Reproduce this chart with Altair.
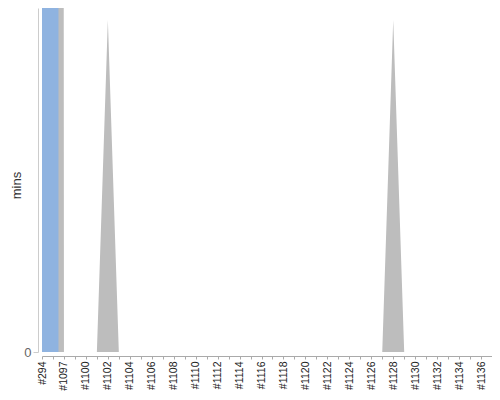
import altair as alt
import pandas as pd

builds = ["#294", "#1096", "#1097", "#1098", "#1100", "#1101", "#1102", "#1103",
          "#1104", "#1105", "#1106", "#1107", "#1108", "#1109", "#1110", "#1111",
          "#1112", "#1113", "#1114", "#1115", "#1116", "#1117", "#1118", "#1119",
          "#1120", "#1121", "#1122", "#1123", "#1124", "#1125", "#1126", "#1127",
          "#1128", "#1129", "#1130", "#1131", "#1132", "#1133", "#1134", "#1135",
          "#1136", "#1137"]

gray_mins = [5000, 5000, 0, 0, 0, 0, 96.5, 0,
             0, 0, 0, 0, 0, 0, 0, 0,
             0, 0, 0, 0, 0, 0, 0, 0,
             0, 0, 0, 0, 0, 0, 0, 0,
             96.5, 0, 0, 0, 0, 0, 0, 0,
             0, 0]

blue_mins = [5000, 5000, 0, 0, 0, 0, 0, 0,
             0, 0, 0, 0, 0, 0, 0, 0,
             0, 0, 0, 0, 0, 0, 0, 0,
             0, 0, 0, 0, 0, 0, 0, 0,
             0, 0, 0, 0, 0, 0, 0, 0,
             0, 0]

df = pd.DataFrame({"build": builds, "gray": gray_mins, "blue": blue_mins})

label_list = "[" + ",".join("'" + b + "'" for b in builds) + "]"
label_expr = f"indexof({label_list}, datum.value) % 2 == 0 ? datum.label : ''"

x_enc = alt.X(
    "build:N",
    sort=None,
    scale=alt.Scale(type="point", padding=0),
    axis=alt.Axis(
        title=None,
        labelAngle=-90,
        labelExpr=label_expr,
        labelOverlap=False,
        labelFont="Liberation Sans",
        labelFontSize=10.5,
        labelColor="#222222",
        labelPadding=2,
        tickSize=3,
        tickColor="#aaaaaa",
        domainColor="#aaaaaa",
        offset=4,
        grid=False,
    ),
)

y_scale = alt.Scale(domain=[0, 100], nice=False)

gray = alt.Chart(df).mark_area(color="#bdbdbd", clip=True, interpolate="linear", opacity=1).encode(
    x=x_enc,
    y=alt.Y(
        "gray:Q",
        scale=y_scale,
        axis=alt.Axis(
            title="mins",
            values=[0],
            grid=False,
            offset=4,
            tickSize=5,
            tickColor="#cccccc",
            domainColor="#cccccc",
            labelFont="Liberation Sans",
            labelFontSize=13,
            labelColor="#666666",
            labelPadding=2,
            titleFont="Liberation Sans",
            titleFontSize=13,
            titleFontWeight="normal",
            titleColor="#333333",
            titleX=-22,
            titleY=177,
            titleAngle=270,
            titleAlign="center",
            titleBaseline="middle",
        ),
    ),
)

blue = alt.Chart(df).mark_area(color="#8fb3e0", clip=True, interpolate="step", opacity=1).encode(
    x=alt.X("build:N", sort=None),
    y=alt.Y("blue:Q", scale=y_scale),
)

chart = alt.layer(gray, blue).properties(
    width=450,
    height=344,
    autosize=alt.AutoSizeParams(type="none"),
    padding={"left": 34, "top": 0, "right": 0, "bottom": 40},
).configure_view(stroke=None)

chart.save("out.html", embed_options={"renderer": "svg", "actions": False})
